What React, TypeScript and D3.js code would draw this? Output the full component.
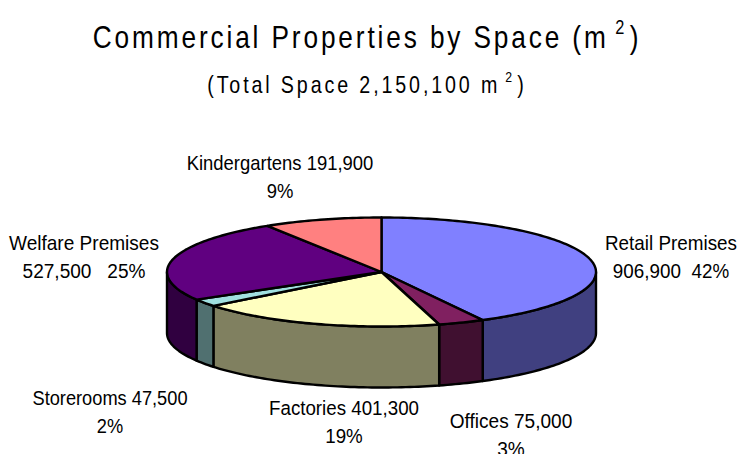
import React from "react";
import * as d3 from "d3";

const categories = ["Retail Premises", "Offices", "Factories", "Storerooms", "Welfare Premises", "Kindergartens"];
const values = [906900, 75000, 401300, 47500, 527500, 191900];
const topColors = ["#8080ff", "#802060", "#ffffc0", "#a0e0e0", "#600080", "#ff8080"];
const sideColors = ["#404080", "#401030", "#808060", "#507070", "#300040", "#804040"];
const labelLines = [
  ["Retail Premises", "906,900  42%"],
  ["Offices 75,000", "3%"],
  ["Factories 401,300", "19%"],
  ["Storerooms 47,500", "2%"],
  ["Welfare Premises", "527,500   25%"],
  ["Kindergartens 191,900", "9%"],
];
const labelPos = [
  [671, 250],
  [511, 428],
  [344, 415],
  [110, 405],
  [84, 250],
  [280, 170],
];
const labelStretch = [0.92, 0.93, 0.915, 0.89, 0.93, 0.9];

const cx = 381.5, cy = 272, rx = 214.5, ry = 54.5, depth = 61;
const font = "'Liberation Sans', Arial, sans-serif";

const px = (a: number) => cx + rx * Math.sin(a);
const py = (a: number) => cy - ry * Math.cos(a);
const line = d3.line<[number, number]>().x(d => d[0]).y(d => d[1]);
const samples = (a0: number, a1: number): number[] => {
  const n = Math.max(2, Math.ceil((a1 - a0) / 0.02));
  return d3.range(n + 1).map(i => a0 + ((a1 - a0) * i) / n);
};

export default function App() {
  const arcs = d3.pie<number>().sort(null).startAngle(0).endAngle(2 * Math.PI)(values);
  return (
    <svg width={738} height={454} style={{ position: "absolute", left: 0, top: 0, background: "#fff" }} fontFamily={font}>
      <text transform="translate(367,48) scale(0.82,1)" textAnchor="middle" fontSize={32} letterSpacing={3.5} fill="#000">
        Commercial Properties by Space (m<tspan dx={8} dy={-14} fontSize={20}>2</tspan><tspan dx={3} dy={14}>)</tspan>
      </text>
      <text transform="translate(367,93) scale(0.82,1)" textAnchor="middle" fontSize={24} letterSpacing={3.5} fill="#000">
        (Total Space 2,150,100 m<tspan dx={6} dy={-11} fontSize={15}>2</tspan><tspan dx={3} dy={11}>)</tspan>
      </text>
      {arcs.map((d, i) => {
        const a0 = Math.max(d.startAngle, Math.PI / 2);
        const a1 = Math.min(d.endAngle, (3 * Math.PI) / 2);
        if (a1 <= a0) return null;
        const top = samples(a0, a1).map(a => [px(a), py(a)] as [number, number]);
        const bottom = samples(a0, a1).reverse().map(a => [px(a), py(a) + depth] as [number, number]);
        return (
          <path key={"s" + categories[i]} d={line([...top, ...bottom]) + "Z"} fill={sideColors[i]} stroke="#000" strokeWidth={2.4} strokeLinejoin="round" />
        );
      })}
      {arcs.map((d, i) => {
        const pts = samples(d.startAngle, d.endAngle).map(a => [px(a), py(a)] as [number, number]);
        return (
          <path key={"t" + categories[i]} d={line([[cx, cy], ...pts]) + "Z"} fill={topColors[i]} stroke="#000" strokeWidth={2.4} strokeLinejoin="round" />
        );
      })}
      {labelLines.map((ls, i) => (
        <text key={categories[i]} transform={`translate(${labelPos[i][0]},${labelPos[i][1]}) scale(${labelStretch[i]},1)`} textAnchor="middle" fontSize={20.5} fill="#000" style={{ whiteSpace: "pre" }}>
          {ls.map((t, j) => (
            <tspan key={j} x={0} dy={j === 0 ? 0 : 28}>{t}</tspan>
          ))}
        </text>
      ))}
    </svg>
  );
}
